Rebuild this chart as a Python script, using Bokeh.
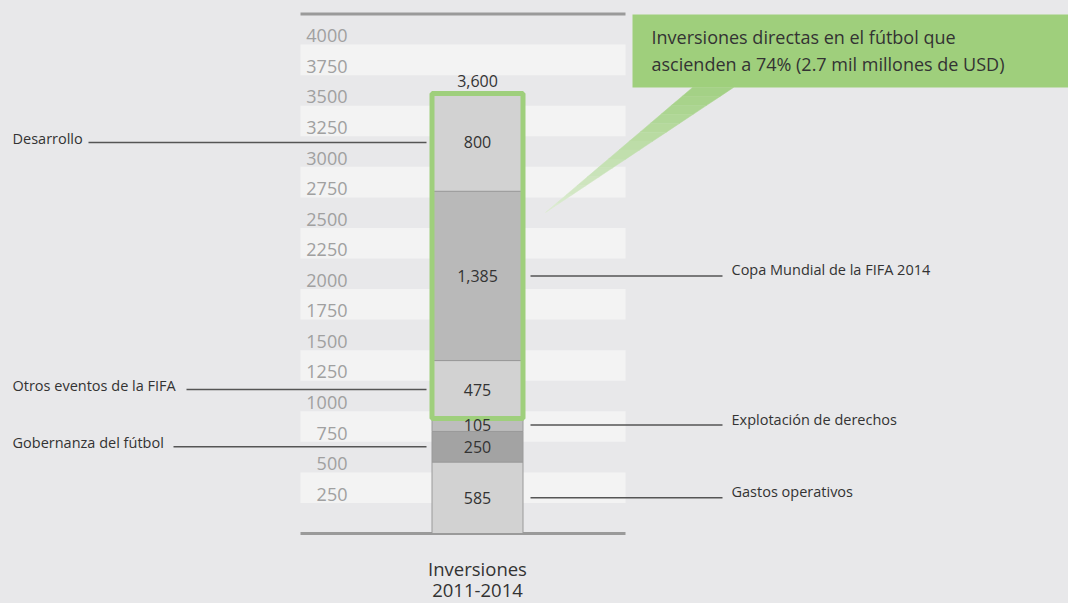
import numpy as np
from bokeh.plotting import figure
from bokeh.models import Range1d
from bokeh.core.properties import value
from bokeh.embed import file_html
from bokeh.resources import INLINE

# ---------------- data ----------------
categories = ["Gastos operativos", "Gobernanza del fútbol", "Explotación de derechos",
              "Otros eventos de la FIFA", "Copa Mundial de la FIFA 2014", "Desarrollo"]
values = [585, 250, 105, 475, 1385, 800]
value_labels = ["585", "250", "105", "475", "1,385", "800"]
total_label = "3,600"
tick_values = [250, 500, 750, 1000, 1250, 1500, 1750, 2000, 2250, 2500, 2750,
               3000, 3250, 3500, 3750, 4000]
tick_labels = [str(v) for v in tick_values]
bar_label = ["Inversiones", "2011-2014"]
callout_lines = ["Inversiones directas en el fútbol que",
                 "ascienden a 74% (2.7 mil millones de USD)"]
highlight_start = 3  # first segment inside the green frame
label_side = ["right", "left", "right", "left", "right", "left"]

# ---------------- styling ----------------
FONT = "Open Sans"
BG = "#e8e8ea"
STRIPE = "#f3f3f3"
GREEN = "#9fcf7c"
seg_colors = ["#d2d2d2", "#a3a3a3", "#bdbdbd", "#d2d2d2", "#b9b9b9", "#d2d2d2"]
left_line_start = {5: 88, 3: 186, 1: 173}

W, H = 1068, 603
K = 440.0 / 3600.0          # px per unit
Y0 = 533.0                  # screen y of value 0


def yv(py):
    return (Y0 - py) / K


p = figure(width=W, height=H, x_range=Range1d(0, W),
           y_range=Range1d(yv(H), yv(0)),
           output_backend="svg", toolbar_location=None, min_border=0,
           x_axis_type=None, y_axis_type=None,
           background_fill_color=BG, border_fill_color=BG, outline_line_color=None)
p.grid.visible = False

# stripes
band_starts = tick_values[::2]
p.quad(left=300, right=625, bottom=band_starts, top=[b + 250 for b in band_starts],
       fill_color=STRIPE, line_color=None)

# axis lines
top_val = tick_values[-1] + 250
p.segment(x0=[300, 300], x1=[625, 625], y0=[top_val, 0], y1=[top_val, 0],
          line_color="#9a9a9a", line_width=3)

# tick labels
p.text(x=347, y=[v + 72 for v in tick_values], text=tick_labels,
       text_align="right", text_baseline="middle", text_font=value(FONT),
       text_font_size="18px", text_color="#a0a0a0")

# stacked bar
tops = list(np.cumsum(values))
bottoms = [0] + tops[:-1]
centers = [(b + t) / 2 for b, t in zip(bottoms, tops)]
p.vbar(x=477, width=91, bottom=bottoms, top=tops, fill_color=seg_colors,
       line_color="#9a9a9a", line_width=1)

# green frame
p.quad(left=431.5, right=522.5, bottom=bottoms[highlight_start], top=tops[-1],
       fill_color=None, line_color=GREEN, line_width=5)

# segment labels
p.text(x=477, y=centers, text=value_labels, text_align="center", text_baseline="middle",
       text_font=value(FONT), text_font_size="16px", text_color="#333333")
p.text(x=477, y=[tops[-1]], text=[total_label], text_align="center",
       text_baseline="bottom", y_offset=-7, text_font=value(FONT),
       text_font_size="16px", text_color="#333333")

# leader lines and category labels
for i, (cat, side) in enumerate(zip(categories, label_side)):
    if side == "left":
        p.segment(x0=left_line_start[i], x1=426, y0=centers[i], y1=centers[i],
                  line_color="#555555", line_width=1.5)
        p.text(x=12, y=[centers[i]], text=[cat], text_align="left", text_baseline="middle",
               y_offset=-4, text_font=value(FONT), text_font_size="14.5px",
               text_color="#333333")
    else:
        p.segment(x0=530, x1=722, y0=centers[i], y1=centers[i],
                  line_color="#555555", line_width=1.5)
        p.text(x=731, y=[centers[i]], text=[cat], text_align="left", text_baseline="middle",
               y_offset=-6, text_font=value(FONT), text_font_size="14.5px",
               text_color="#333333")

# callout pointer (gradient bands)
N = 14
bl, br, tip = (692.0, 87.0), (733.0, 87.0), (545.0, 212.0)
c0 = np.array([0xa2, 0xd0, 0x83])
c1 = np.array([0xdc, 0xec, 0xd2])


def lerp(a, b, t):
    return (a[0] + (b[0] - a[0]) * t, a[1] + (b[1] - a[1]) * t)


for i in range(N):
    t0, t1 = i / N, (i + 1) / N
    pl0, pr0 = lerp(bl, tip, t0), lerp(br, tip, t0)
    pl1, pr1 = lerp(bl, tip, t1), lerp(br, tip, t1)
    c = c0 + (c1 - c0) * ((t0 + t1) / 2)
    col = "#%02x%02x%02x" % tuple(int(round(v)) for v in c)
    p.patch(x=[pl0[0], pr0[0], pr1[0], pl1[0]],
            y=[yv(pl0[1]), yv(pr0[1]), yv(pr1[1]), yv(pl1[1])],
            fill_color=col, line_color=col, line_width=0.5)

# callout box
p.quad(left=632, right=1075, top=yv(14), bottom=yv(87), fill_color=GREEN, line_color=None)
p.text(x=651, y=[yv(36), yv(63)], text=callout_lines, text_align="left",
       text_baseline="middle", text_font=value(FONT), text_font_size="18px",
       text_color="#333333")

# bar category label
p.text(x=477, y=[yv(568), yv(590)], text=bar_label, text_align="center",
       text_baseline="middle", text_font=value(FONT), text_font_size="18.5px",
       text_color="#333333")

html = file_html(p, INLINE)
html = html.replace("<head>", "<head><style>body{background:%s}</style>" % BG, 1)
open("out.html", "w").write(html)
